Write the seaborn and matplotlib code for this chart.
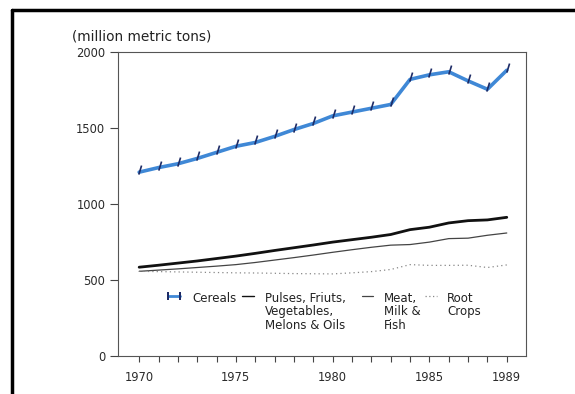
import matplotlib
matplotlib.use("Agg")
import matplotlib.pyplot as plt
from matplotlib.lines import Line2D
from matplotlib.legend import Legend
import numpy as np
import pandas as pd
import seaborn as sns

# values (million metric tons)
years = list(range(1970, 1990))
cereals = [1210, 1240, 1265, 1300, 1340, 1380, 1405, 1445, 1490, 1530,
           1580, 1605, 1630, 1655, 1820, 1850, 1870, 1810, 1755, 1880]
pulses_fruits = [585, 598, 612, 626, 642, 658, 676, 695, 713, 731,
                 750, 766, 782, 800, 832, 848, 876, 891, 896, 913]
meat_milk_fish = [558, 566, 574, 583, 592, 602, 616, 632, 648, 665,
                  683, 700, 716, 730, 734, 750, 773, 776, 795, 810]
root_crops = [558, 556, 554, 552, 550, 548, 547, 545, 543, 542,
              541, 548, 556, 570, 602, 597, 597, 598, 583, 600]

labels = ["Cereals", "Pulses, Friuts,\nVegetables,\nMelons & Oils",
          "Meat,\nMilk &\nFish", "Root\nCrops"]
xtick_labels = ["1970", "1975", "1980", "1985", "1989"]

sns.set_style("ticks")
plt.rcParams['font.family'] = ['DejaVu Sans']

fig = plt.figure(figsize=(5.75, 3.94), dpi=100)
ax = fig.add_axes([0.205, 0.096, 0.71, 0.772])

df = pd.DataFrame({"year": years, "cereals": cereals, "pulses": pulses_fruits,
                   "meat": meat_milk_fish, "root": root_crops})

# little hatch mark standing on the cereals line
hatch = [(-0.1, -0.3), (0.3, 1.0)]

BLUE = "#3f88d6"
NAVY = "#1d2b66"
sns.lineplot(x="year", y="cereals", data=df, ax=ax, color=BLUE, lw=2.6,
             marker=hatch, markersize=10, markeredgecolor=NAVY,
             markerfacecolor="none", markeredgewidth=1.2, zorder=4)
sns.lineplot(x="year", y="pulses", data=df, ax=ax, color="#111111", lw=2.0)
sns.lineplot(x="year", y="meat", data=df, ax=ax, color="#444444", lw=0.9)
sns.lineplot(x="year", y="root", data=df, ax=ax, color="#888888", lw=0.9,
             linestyle=(0, (1, 2.5)))

ax.set_xlim(1968.9, 1990.0)
ax.set_ylim(0, 2000)
ax.set_yticks([0, 500, 1000, 1500, 2000])
ax.set_xticks(years)
ax.set_xticklabels([str(y) if str(y) in xtick_labels else "" for y in years])
ax.tick_params(axis="both", labelsize=8.3, labelcolor="#2a2a2a",
               color="#444444", width=0.8)
ax.tick_params(axis="y", length=6, pad=3)
ax.tick_params(axis="x", length=4.5, pad=6)
ax.set_xlabel("")
ax.set_ylabel("")
for s in ax.spines.values():
    s.set_color("#555555")
    s.set_linewidth(0.8)

fig.text(0.125, 0.898, "(million metric tons)", fontsize=9.9, color="#222222")

# legend: one small legend per entry so the uneven spacing of the original holds
handles = [
    Line2D([], [], color=BLUE, lw=2.0, marker=(2, 2, 0), markersize=6,
           markeredgecolor=NAVY, markeredgewidth=1.2),
    Line2D([], [], color="#111111", lw=1.0),
    Line2D([], [], color="#444444", lw=0.9),
    Line2D([], [], color="#888888", lw=0.9, linestyle=(0, (1, 2))),
]
leg_x = [0.115, 0.305, 0.597, 0.752]
for i, (h, lab, x) in enumerate(zip(handles, labels, leg_x)):
    leg = Legend(ax, [h], [lab], frameon=False, loc="upper left",
                 bbox_to_anchor=(x, 0.212), fontsize=8.5,
                 handlelength=1.6 if i == 0 else 1.0,
                 numpoints=2 if i == 0 else 1,
                 handletextpad=0.7 if i == 0 else 0.9,
                 borderpad=0, borderaxespad=0)
    row = leg._legend_handle_box.get_children()[0].get_children()[0]
    row.align = "top"
    for t in leg.get_texts():
        t.set_color("#222222")
        t.set_linespacing(1.05)
    ax.add_artist(leg)

# scanned page frame
fig.add_artist(Line2D([0.02, 1.0], [0.975, 0.975], transform=fig.transFigure,
                      color="black", lw=2.5))
fig.add_artist(Line2D([0.02, 0.02], [0.0, 0.975], transform=fig.transFigure,
                      color="black", lw=2.5))

fig.savefig("out.png", dpi=100)
